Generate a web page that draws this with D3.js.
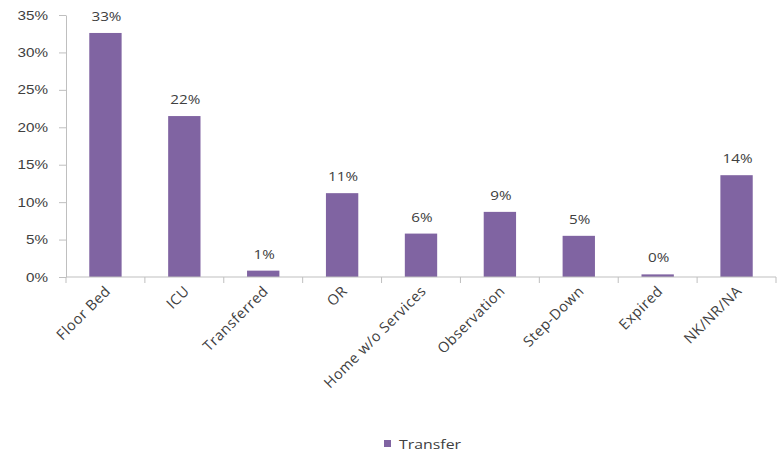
<!DOCTYPE html>
<html><head><meta charset="utf-8">
<script src="https://cdn.jsdelivr.net/npm/d3@7"></script>
<style>body{margin:0;background:#fff;} svg{display:block;font-family:"Open Sans","Liberation Sans",sans-serif;}</style>
</head><body><svg id="c" width="779" height="454"></svg>
<script>
const categories = ["Floor Bed","ICU","Transferred","OR","Home w/o Services","Observation","Step-Down","Expired","NK/NR/NA"];
const values = [0.326,0.215,0.0085,0.112,0.058,0.087,0.055,0.0035,0.136];
const valueLabels = ["33%","22%","1%","11%","6%","9%","5%","0%","14%"];
const yTicks = [0,0.05,0.10,0.15,0.20,0.25,0.30,0.35];
const seriesName = "Transfer";

(function(){
const svg = d3.select("#c");
const mL = 66, mR = 776, mT = 15, mB = 277;
const sx = 1.22; // horizontal text stretch seen in the reference
const x = d3.scaleBand().domain(categories).range([mL, mR]).paddingInner(0.59).paddingOuter(0.295);
const xb = d3.scaleBand().domain(categories).range([mL, mR]);
const y = d3.scaleLinear().domain([0,0.35]).range([mB, mT]);
const color = "#8064A2", axisCol = "#bfbfbf", textCol = "#404040";

// y axis
const ya = svg.append("g").attr("transform",`translate(${mL},0)`)
  .call(d3.axisLeft(y).tickValues(yTicks).tickFormat(d3.format(".0%")).tickSize(7).tickSizeOuter(0));
ya.select(".domain").attr("stroke",axisCol);
ya.selectAll(".tick line").attr("stroke",axisCol);
ya.selectAll(".tick text").attr("fill",textCol).attr("font-size",12.5).attr("x",0)
  .attr("transform",`translate(-18,0) scale(${sx},1)`);

// bars
svg.append("g").selectAll("rect").data(categories).join("rect")
  .attr("x",d=>x(d)).attr("width",x.bandwidth())
  .attr("y",(d,i)=>y(values[i])).attr("height",(d,i)=>mB-y(values[i]))
  .attr("fill",color);

// x axis
const xa = svg.append("g").attr("transform",`translate(0,${mB})`);
xa.append("line").attr("x1",mL).attr("x2",mR).attr("stroke",axisCol);
xa.selectAll("line.t").data(categories.concat([null])).join("line").attr("class","t")
  .attr("x1",(d,i)=>mL+i*xb.step()).attr("x2",(d,i)=>mL+i*xb.step())
  .attr("y1",0).attr("y2",6).attr("stroke",axisCol);
xa.selectAll("text").data(categories).join("text")
  .attr("transform",d=>`translate(${xb(d)+xb.bandwidth()/2+6},15) rotate(-45)`)
  .attr("text-anchor","end").attr("fill",textCol).attr("font-size",14.5)
  .attr("letter-spacing",0.5).text(d=>d);

// value labels
svg.append("g").selectAll("text").data(categories).join("text")
  .attr("transform",(d,i)=>`translate(${x(d)+x.bandwidth()/2+1},${y(values[i])-12}) scale(${sx},1)`)
  .attr("text-anchor","middle").attr("fill",textCol).attr("font-size",12.5).text((d,i)=>valueLabels[i]);

// legend
const lg = svg.append("g").attr("transform","translate(384,440)");
lg.append("rect").attr("width",7).attr("height",7).attr("fill",color);
lg.append("text").attr("transform",`translate(15,8.5) scale(${sx},1)`).attr("fill",textCol).attr("font-size",13).text(seriesName);
})();
</script></body></html>
